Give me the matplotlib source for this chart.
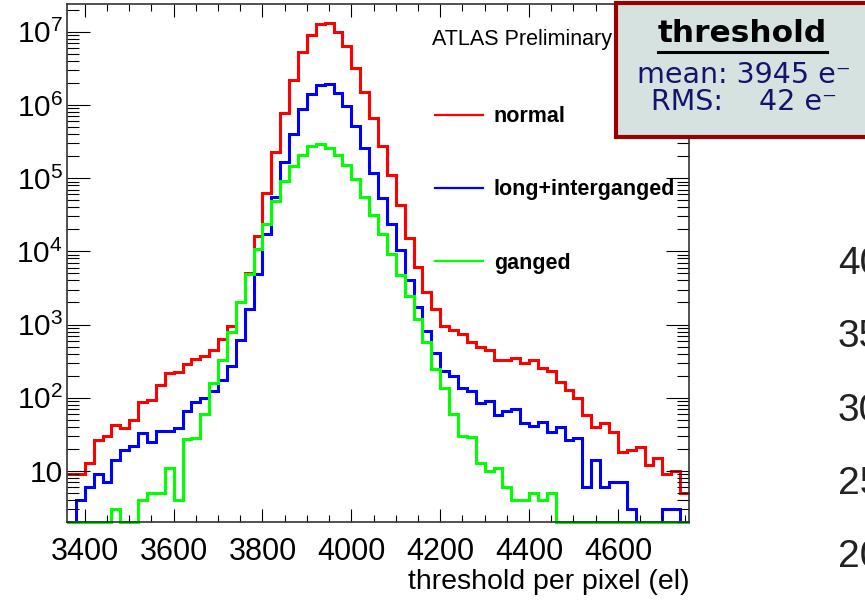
import matplotlib
matplotlib.use("Agg")
import matplotlib.pyplot as plt
import numpy as np
from matplotlib.lines import Line2D
from matplotlib.patches import Rectangle
from matplotlib.ticker import MultipleLocator, LogLocator, NullFormatter, FuncFormatter

plt.rcParams['font.family'] = ['Liberation Sans', 'DejaVu Sans']
plt.rcParams['mathtext.fontset'] = 'custom'
plt.rcParams['mathtext.rm'] = 'Liberation Sans'
plt.rcParams['mathtext.it'] = 'Liberation Sans:italic'
plt.rcParams['mathtext.bf'] = 'Liberation Sans:bold'

# histogram binning (electrons)
bin_lo = 3360
bin_width = 20
n_bins = 70

# counts per bin
normal = [9, 9, 13, 26, 30, 43, 39, 49, 86, 93,
          149, 215, 221, 285, 337, 374, 447, 631, 960, 2040,
          5000, 16200, 63000, 226000, 778000, 2210000, 5220000, 9100000, 12860000, 13140000,
          9900000, 6310000, 3200000, 1520000, 665000, 276000, 112000, 43000, 15400, 6180,
          2790, 1620, 958, 837, 738, 568, 495, 447, 329, 329,
          344, 297, 329, 251, 229, 162, 127, 99, 58, 40,
          45, 34, 18, 19, 21, 12, 15, 9, 10, 5]
long_inter = [0, 4, 6, 9, 7, 14, 19, 22, 33, 25,
              35, 35, 39, 65, 86, 98, 122, 174, 273, 611,
              1618, 4970, 17050, 55700, 165000, 403000, 883000, 1428000, 1893000, 1953000,
              1459000, 957000, 522000, 258000, 118300, 53600, 23350, 10380, 4020, 1740,
              819, 406, 233, 200, 134, 124, 84, 89, 58, 66,
              70, 45, 41, 46, 34, 40, 26, 28, 6, 14,
              6, 7, 7, 3, 0, 0, 0, 3, 3, 0]
ganged = [0, 0, 0, 0, 0, 3, 0, 0, 4, 5,
          5, 11, 4, 27, 28, 60, 158, 329, 794, 2030,
          4850, 10640, 23350, 48500, 90900, 148800, 210300, 273000, 297000, 259000,
          207000, 151000, 95900, 55300, 30950, 17050, 9190, 4780, 2460, 1182,
          580, 246, 135, 60, 30, 29, 13, 10, 11, 6,
          4, 4, 5, 4, 5, 0, 0, 0, 0, 0,
          0, 0, 0, 0, 0, 0, 0, 0, 0, 0]

series = [("normal", normal, "#ff0000"),
          ("long+interganged", long_inter, "#0000ff"),
          ("ganged", ganged, "#00ff00")]

edges = bin_lo + bin_width * np.arange(n_bins + 1)

W, H = 865, 604
fig = plt.figure(figsize=(W / 100, H / 100), dpi=100)
ax = fig.add_axes([67 / W, 1 - 522 / H, 622 / W, 518 / H])

ymin, ymax = 2, 2.4e7
for name, vals, col in series:
    ax.stairs(np.clip(vals, ymin, None), edges, color=col, lw=2.2,
              baseline=None, clip_on=False)

ax.set_yscale('log')
ax.set_xlim(edges[0], edges[-1])
ax.set_ylim(ymin, ymax)

ax.xaxis.set_major_locator(MultipleLocator(200))
ax.xaxis.set_minor_locator(MultipleLocator(50))
ax.yaxis.set_major_locator(LogLocator(base=10, numticks=20))
ax.yaxis.set_minor_locator(LogLocator(base=10, subs=np.arange(2, 10), numticks=20))
ax.yaxis.set_minor_formatter(NullFormatter())
ax.yaxis.set_major_formatter(FuncFormatter(
    lambda v, _: '10' if abs(v - 10) < 1e-6 else r'$10^{%d}$' % round(np.log10(v))))

ax.tick_params(which='both', direction='in', top=True, right=True, colors='black', width=0.8)
ax.tick_params(axis='x', which='major', length=9.4, pad=10.5, labelsize=22)
ax.tick_params(axis='x', which='minor', length=5)
ax.tick_params(axis='y', which='major', length=16.5, pad=3, labelsize=21.5)
ax.tick_params(axis='y', which='minor', length=8.3)
for sp in ax.spines.values():
    sp.set_linewidth(1.2)
    sp.set_color('#333333')

ax.set_xlabel('threshold per pixel (el)', fontsize=20.5, loc='right', labelpad=2)

handles = [Line2D([], [], color=c, lw=1.6) for _, _, c in series]
ax.legend(handles, [n for n, _, _ in series], loc='center left',
          bbox_to_anchor=(0.5916, 0.641), frameon=False, borderpad=0, borderaxespad=0,
          handlelength=2.23, handletextpad=0.5, labelspacing=2.42,
          prop={'size': 15.5, 'weight': 'bold'})

fig.text(432 / W, 1 - 40 / H, 'ATLAS Preliminary', fontsize=15.5, ha='left', va='center')

# info box in the top right corner
box = Rectangle((616 / W, 1 - 137 / H), 270 / W, 134 / H, transform=fig.transFigure,
                facecolor='#d5e2df', edgecolor='#990000', lw=3, zorder=5)
fig.patches.append(box)
fig.text(742 / W, 1 - 34 / H, 'threshold', fontsize=22.5, fontweight='bold',
         family='DejaVu Sans', ha='center', va='center', zorder=6)
fig.add_artist(Line2D([658 / W, 827 / W], [1 - 52 / H, 1 - 52 / H], color='black',
                      lw=2.2, transform=fig.transFigure, zorder=6))
fig.text(744 / W, 1 - 75 / H, 'mean: 3945 e\u207b', fontsize=20.5, color='#14146e',
         family='DejaVu Sans', ha='center', va='center', zorder=6)
fig.text(744 / W, 1 - 102 / H, 'RMS:    42 e\u207b', fontsize=20.5, color='#14146e',
         family='DejaVu Sans', ha='center', va='center', zorder=6)

# axis labels of the neighbouring plot, cut by the image edge
for lab, py in zip(['40', '35', '30', '25', '20'], [264, 337, 411, 484, 557]):
    fig.text(838 / W, 1 - py / H, lab, fontsize=28, color='#222222', ha='left', va='center')

fig.savefig('out.png', dpi=100)
